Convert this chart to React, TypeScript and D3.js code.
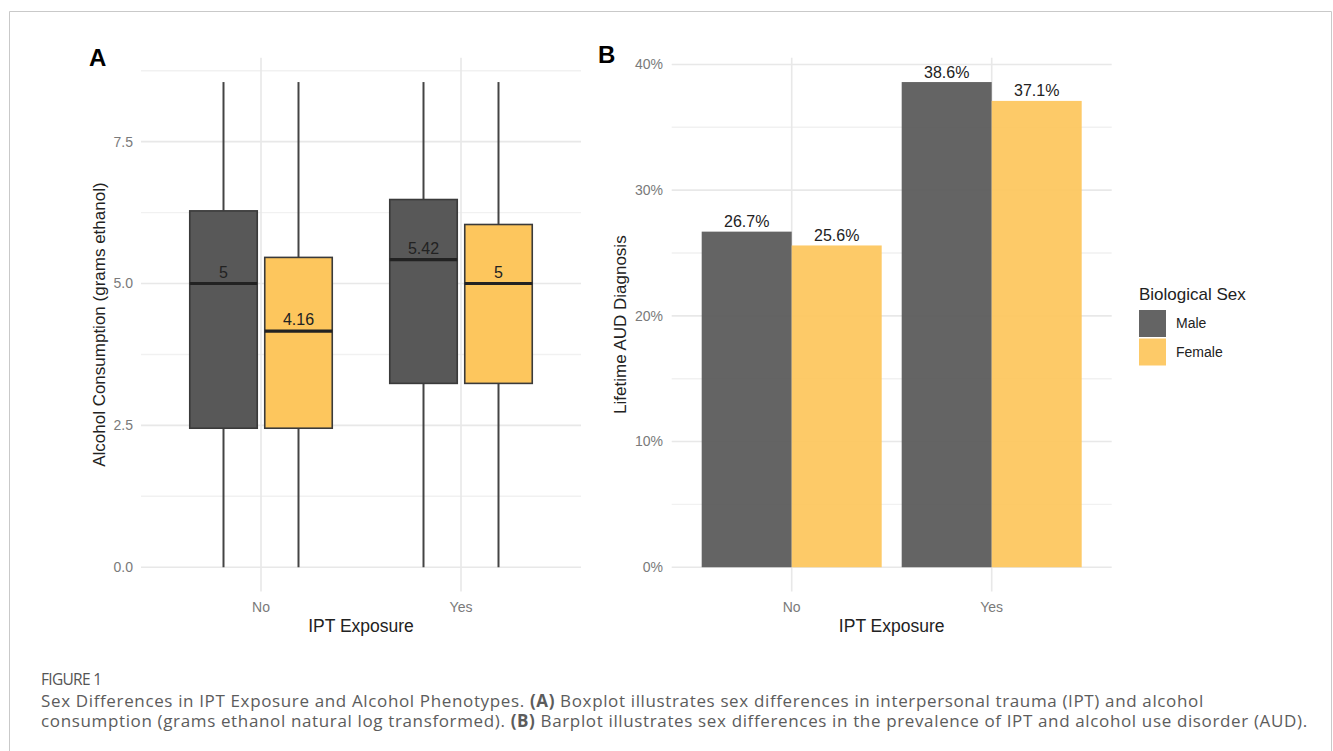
import React from 'react';
import * as d3 from 'd3';

// catégories et séries
const iptLevels = ['No', 'Yes'];
const sexes = ['Male', 'Female'];
const sexColors = ['#585858', '#FDC65D'];

// boxplot (ordre : No-Male, No-Female, Yes-Male, Yes-Female)
const boxIpt = ['No', 'No', 'Yes', 'Yes'];
const boxSex = ['Male', 'Female', 'Male', 'Female'];
const whiskerLow = [0, 0, 0, 0];
const boxQ1 = [2.45, 2.45, 3.24, 3.24];
const boxMedian = [5, 4.16, 5.42, 5];
const boxQ3 = [6.28, 5.46, 6.48, 6.04];
const whiskerHigh = [8.55, 8.55, 8.55, 8.55];
const medianLabels = ['5', '4.16', '5.42', '5'];

// barplot
const audMale = [0.267, 0.386];
const audFemale = [0.256, 0.371];

const ticksA = [0, 2.5, 5, 7.5];
const minorA = [1.25, 3.75, 6.25, 8.75];
const ticksB = [0, 0.1, 0.2, 0.3, 0.4];
const minorB = [0.05, 0.15, 0.25, 0.35];

const W = 1333;
const H = 751;
const font = 'Liberation Sans, Arial, sans-serif';
const capFont = 'Open Sans, sans-serif';
const panelTop = 57.8;
const panelBottom = 591.5;

// même logique qu'une échelle discrète ggplot (expansion 0.6)
const xA = d3.scalePoint<string>().domain(iptLevels).range([141, 581]).padding(0.6);
const xB = d3.scalePoint<string>().domain(iptLevels).range([671.7, 1111.7]).padding(0.6);
const stepA = xA.step();
const stepB = xB.step();
const dodgeA = d3.scaleBand<string>().domain(sexes).range([-stepA * 0.375, stepA * 0.375]);
const dodgeB = d3.scaleBand<string>().domain(sexes).range([-stepB * 0.45, stepB * 0.45]);

const maxA = d3.max(whiskerHigh) as number;
const yA = d3.scaleLinear().domain([-maxA * 0.05, maxA * 1.05]).range([panelBottom, panelTop]);
const maxB = d3.max([...audMale, ...audFemale]) as number;
const yB = d3.scaleLinear().domain([-maxB * 0.05, maxB * 1.05]).range([panelBottom, panelTop]);

const pct = d3.format('.0%');
const pct1 = d3.format('.1%');

const gridMajor = '#e8e8e8';
const gridMinor = '#f1f1f1';
const tickCol = '#7a7a7a';
const textCol = '#222';

export default function App() {
  const [x0A, x1A] = xA.range();
  const [x0B, x1B] = xB.range();

  return (
    <svg width={W} height={H} style={{ position: 'absolute', left: 0, top: 0, background: '#fff' }}>
      {/* cadre */}
      <path d={`M9.5,${H} V11.5 H1331.5 V${H}`} fill="none" stroke="#c9c9c9" strokeWidth={1} />

      {/* ---------- Panneau A ---------- */}
      <text x={89} y={66} fontFamily={font} fontWeight="bold" fontSize={24} fill="#000">A</text>
      {minorA.map(v => (
        <line key={'ma' + v} x1={x0A} x2={x1A} y1={yA(v)} y2={yA(v)} stroke={gridMinor} strokeWidth={1.4} />
      ))}
      {ticksA.map(v => (
        <line key={'ga' + v} x1={x0A} x2={x1A} y1={yA(v)} y2={yA(v)} stroke={gridMajor} strokeWidth={1.6} />
      ))}
      {iptLevels.map(c => (
        <line key={'va' + c} x1={xA(c)} x2={xA(c)} y1={panelTop} y2={panelBottom} stroke={gridMajor} strokeWidth={1.6} />
      ))}
      {ticksA.map(v => (
        <text key={'ta' + v} x={133} y={yA(v)} dy="0.35em" textAnchor="end" fontFamily={font} fontSize={14} fill={tickCol}>
          {d3.format('.1f')(v)}
        </text>
      ))}

      {boxMedian.map((m, i) => {
        const cx = (xA(boxIpt[i]) as number) + (dodgeA(boxSex[i]) as number) + dodgeA.bandwidth() / 2;
        const bw = dodgeA.bandwidth() * 0.9;
        const fill = sexColors[sexes.indexOf(boxSex[i])];
        return (
          <g key={'box' + i}>
            <line x1={cx} x2={cx} y1={yA(whiskerHigh[i])} y2={yA(boxQ3[i])} stroke="#444" strokeWidth={2} />
            <line x1={cx} x2={cx} y1={yA(boxQ1[i])} y2={yA(whiskerLow[i])} stroke="#444" strokeWidth={2} />
            <rect x={cx - bw / 2} y={yA(boxQ3[i])} width={bw} height={yA(boxQ1[i]) - yA(boxQ3[i])}
              fill={fill} stroke="#3a3a3a" strokeWidth={1.6} />
            <line x1={cx - bw / 2} x2={cx + bw / 2} y1={yA(m)} y2={yA(m)} stroke="#222" strokeWidth={3.2} />
            <text x={cx} y={yA(m) - 6} textAnchor="middle" fontFamily={font} fontSize={16} fill={textCol}>
              {medianLabels[i]}
            </text>
          </g>
        );
      })}

      {iptLevels.map(c => (
        <text key={'xa' + c} x={xA(c)} y={612} textAnchor="middle" fontFamily={font} fontSize={14} fill={tickCol}>{c}</text>
      ))}
      <text x={(x0A + x1A) / 2} y={632} textAnchor="middle" fontFamily={font} fontSize={17.5} fill={textCol}>IPT Exposure</text>
      <text transform={`translate(105,${(panelTop + panelBottom) / 2}) rotate(-90)`} textAnchor="middle"
        fontFamily={font} fontSize={17} fill={textCol}>Alcohol Consumption (grams ethanol)</text>

      {/* ---------- Panneau B ---------- */}
      <text x={598} y={63} fontFamily={font} fontWeight="bold" fontSize={24} fill="#000">B</text>
      {minorB.map(v => (
        <line key={'mb' + v} x1={x0B} x2={x1B} y1={yB(v)} y2={yB(v)} stroke={gridMinor} strokeWidth={1.4} />
      ))}
      {ticksB.map(v => (
        <line key={'gb' + v} x1={x0B} x2={x1B} y1={yB(v)} y2={yB(v)} stroke={gridMajor} strokeWidth={1.6} />
      ))}
      {iptLevels.map(c => (
        <line key={'vb' + c} x1={xB(c)} x2={xB(c)} y1={panelTop} y2={panelBottom} stroke={gridMajor} strokeWidth={1.6} />
      ))}
      {ticksB.map(v => (
        <text key={'tb' + v} x={663} y={yB(v)} dy="0.35em" textAnchor="end" fontFamily={font} fontSize={14} fill={tickCol}>
          {pct(v)}
        </text>
      ))}

      {iptLevels.map((c, i) =>
        [audMale[i], audFemale[i]].map((v, j) => {
          const bx = (xB(c) as number) + (dodgeB(sexes[j]) as number);
          return (
            <g key={'bar' + c + j}>
              <rect x={bx} y={yB(v)} width={dodgeB.bandwidth()} height={yB(0) - yB(v)}
                fill={sexColors[j]} fillOpacity={0.93} />
              <text x={bx + dodgeB.bandwidth() / 2} y={yB(v) - 4.5} textAnchor="middle" fontFamily={font}
                fontSize={16} fill={textCol}>{pct1(v)}</text>
            </g>
          );
        })
      )}

      {iptLevels.map(c => (
        <text key={'xb' + c} x={xB(c)} y={612} textAnchor="middle" fontFamily={font} fontSize={14} fill={tickCol}>{c}</text>
      ))}
      <text x={(x0B + x1B) / 2} y={632} textAnchor="middle" fontFamily={font} fontSize={17.5} fill={textCol}>IPT Exposure</text>
      <text transform={`translate(626,${(panelTop + panelBottom) / 2}) rotate(-90)`} textAnchor="middle"
        fontFamily={font} fontSize={17} fill={textCol}>Lifetime AUD Diagnosis</text>

      {/* légende */}
      <text x={1139} y={300} fontFamily={font} fontSize={17} fill={textCol}>Biological Sex</text>
      {sexes.map((s, i) => (
        <g key={'lg' + s} transform={`translate(1139,${310 + i * 28.5})`}>
          <rect width={27} height={27} fill={sexColors[i]} fillOpacity={0.93} />
          <text x={37} y={13.5} dy="0.35em" fontFamily={font} fontSize={14} fill={textCol}>{s}</text>
        </g>
      ))}

      {/* légende de la figure */}
      <text x={41} y={685} fontFamily={capFont} fontSize={15.5} fill="#555" letterSpacing={-0.7}>FIGURE 1</text>
      <text x={41} y={706.5} fontFamily={capFont} fontSize={17} fill="#5c5c5c" letterSpacing={0.64}>
        Sex Differences in IPT Exposure and Alcohol Phenotypes. <tspan fontWeight="bold">(A)</tspan> Boxplot illustrates sex differences in interpersonal trauma (IPT) and alcohol
      </text>
      <text x={41} y={727} fontFamily={capFont} fontSize={17} fill="#5c5c5c" letterSpacing={0.64}>
        consumption (grams ethanol natural log transformed). <tspan fontWeight="bold">(B)</tspan> Barplot illustrates sex differences in the prevalence of IPT and alcohol use disorder (AUD).
      </text>
    </svg>
  );
}
